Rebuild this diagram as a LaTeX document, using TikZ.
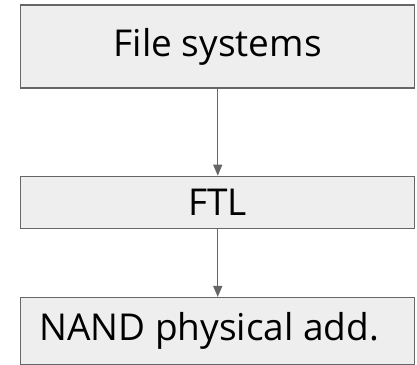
\documentclass[tikz,border=0pt]{standalone}
\usepackage{fontspec}
\setmainfont{Open Sans}
\usepackage{xcolor}
\usepackage{tikz}
\usetikzlibrary{arrows.meta, positioning}

\definecolor{boxfill}{HTML}{EEEEEE}
\definecolor{boxline}{HTML}{666666}

\begin{document}
\begin{tikzpicture}[x=1pt, y=1pt,
    layer/.style={draw=boxline, line width=1.3pt, fill=boxfill, rectangle,
                  minimum width=394pt, inner sep=0pt, align=center,
                  font=\fontsize{37}{40}\selectfont},
    flow/.style={draw=boxline, line width=1.3pt, -{Triangle[length=11pt, width=9pt]}}
]
\useasboundingbox (0,0) rectangle (417,364);
\node[layer, minimum height=83pt] (fs) at (217.75,317.5) {File systems};
\node[layer, minimum height=52pt, below=87pt of fs] (ftl) {FTL};
\node[layer, minimum height=67pt, below=68pt of ftl] (nand) {NAND physical add.\hspace*{17pt}};

\draw[flow] (fs) -- (ftl);
\draw[flow] (ftl) -- (nand);
\end{tikzpicture}
\end{document}
